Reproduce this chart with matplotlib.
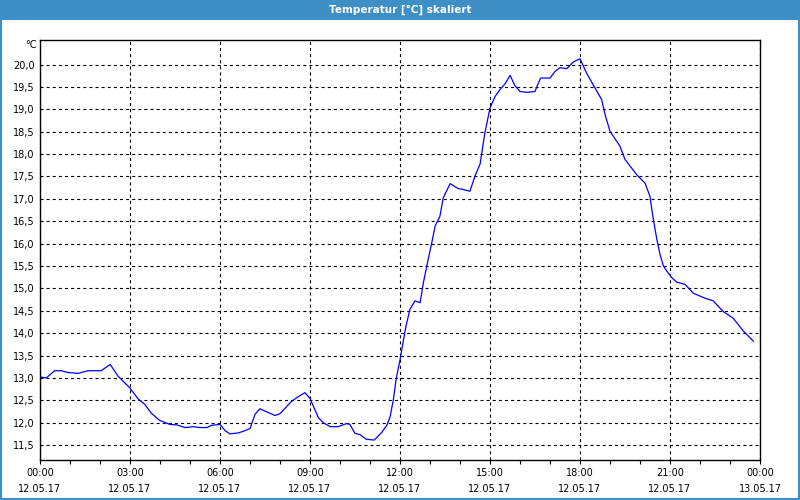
import matplotlib
matplotlib.use("Agg")
import matplotlib.pyplot as plt
from matplotlib.patches import Rectangle
from matplotlib.ticker import MultipleLocator, FixedLocator

# readings of 12.05.17, hours after midnight
hours = [0.0, 0.21, 0.49, 0.71, 0.93, 1.27, 1.6, 2.04, 2.34, 2.6, 2.99, 3.27,
         3.49, 3.71, 3.99, 4.33, 4.56, 4.83, 5.11, 5.33, 5.56, 5.72, 6.0, 6.17,
         6.33, 6.61, 6.83, 7.0, 7.17, 7.33, 7.56, 7.83, 8.0, 8.39, 8.61, 8.83,
         9.0, 9.28, 9.44, 9.67, 9.94, 10.22, 10.33, 10.5, 10.67, 10.87, 11.14,
         11.39, 11.56, 11.67, 11.78, 11.87, 12.0, 12.09, 12.2, 12.33, 12.5,
         12.67, 12.78, 12.94, 13.06, 13.17, 13.33, 13.44, 13.67, 13.94, 14.11,
         14.33, 14.5, 14.67, 14.83, 15.0, 15.17, 15.33, 15.5, 15.67, 15.83,
         16.0, 16.22, 16.5, 16.62, 16.69, 17.0, 17.17, 17.33, 17.56, 17.78,
         18.0, 18.22, 18.44, 18.72, 18.85, 19.0, 19.33, 19.5, 19.89, 20.17,
         20.33, 20.44, 20.56, 20.67, 20.78, 20.89, 21.06, 21.22, 21.5, 21.78,
         22.17, 22.44, 22.78, 23.11, 23.44, 23.78]
temps = [13.02, 13.0, 13.16, 13.16, 13.12, 13.1, 13.16, 13.16, 13.3, 13.04,
         12.78, 12.53, 12.41, 12.21, 12.05, 11.96, 11.95, 11.89, 11.91, 11.89,
         11.89, 11.94, 11.96, 11.82, 11.75, 11.77, 11.82, 11.87, 12.19, 12.31,
         12.24, 12.16, 12.2, 12.48, 12.58, 12.67, 12.54, 12.11, 12.0, 11.91,
         11.91, 11.98, 11.96, 11.76, 11.73, 11.63, 11.61, 11.78, 11.94, 12.13,
         12.52, 12.97, 13.4, 13.75, 14.16, 14.53, 14.72, 14.68, 15.13, 15.65,
         16.02, 16.39, 16.61, 17.02, 17.34, 17.23, 17.21, 17.17, 17.51, 17.78,
         18.48, 19.03, 19.29, 19.44, 19.57, 19.76, 19.53, 19.4, 19.38, 19.4,
         19.6, 19.7, 19.7, 19.85, 19.93, 19.91, 20.06, 20.13, 19.81, 19.55,
         19.22, 18.85, 18.51, 18.18, 17.88, 17.54, 17.35, 17.06, 16.56, 16.1,
         15.75, 15.5, 15.39, 15.24, 15.14, 15.09, 14.89, 14.78, 14.72, 14.48,
         14.33, 14.05, 13.82]

tick_hours = [0, 3, 6, 9, 12, 15, 18, 21, 24]
tick_labels = ["00:00\n12.05.17", "03:00\n12.05.17", "06:00\n12.05.17",
               "09:00\n12.05.17", "12:00\n12.05.17", "15:00\n12.05.17",
               "18:00\n12.05.17", "21:00\n12.05.17", "00:00\n13.05.17"]

BAR = "#3d8fc6"
plt.rcParams["lines.scale_dashes"] = False

fig = plt.figure(figsize=(8, 5), dpi=100, facecolor="white")
# title bar and frame
fig.patches.append(Rectangle((0, 480 / 500), 1, 20 / 500, transform=fig.transFigure,
                             facecolor=BAR, edgecolor="none", zorder=0))
fig.patches.append(Rectangle((0.001, 0.002), 0.998, 0.996, transform=fig.transFigure,
                             facecolor="none", edgecolor=BAR, lw=1.5, zorder=0))
fig.text(0.5, 490 / 500, "Temperatur [°C] skaliert", color="white", fontsize=7.5,
         fontweight="bold", ha="center", va="center")

ax = fig.add_axes([40 / 800, 40 / 500, 720 / 800, 420 / 500])
ax.plot(hours, temps, color="#0000ff", lw=0.9)

ax.set_xlim(0, 24)
ax.set_ylim(11.165, 20.55)
ax.xaxis.set_major_locator(FixedLocator(tick_hours))
ax.set_xticklabels(tick_labels, fontsize=7, linespacing=1.75)
ax.xaxis.set_minor_locator(MultipleLocator(1))
ax.yaxis.set_major_locator(FixedLocator([11.5 + 0.5 * i for i in range(18)]))
ax.set_yticklabels([f"{11.5 + 0.5 * i:.1f}".replace(".", ",") for i in range(18)], fontsize=7)

ax.tick_params(axis="x", which="both", length=3, width=0.8, direction="out", pad=3)
ax.tick_params(axis="y", length=0, pad=4)
ax.grid(True, color="black", lw=0.8, linestyle=(0, (2.2, 2.2)))
for s in ax.spines.values():
    s.set_linewidth(1.0)
    s.set_color("black")

ax.text(-0.005, 1.0, "°C", transform=ax.transAxes, fontsize=7, ha="right", va="top")

fig.savefig("out.png", dpi=100, facecolor="white")
